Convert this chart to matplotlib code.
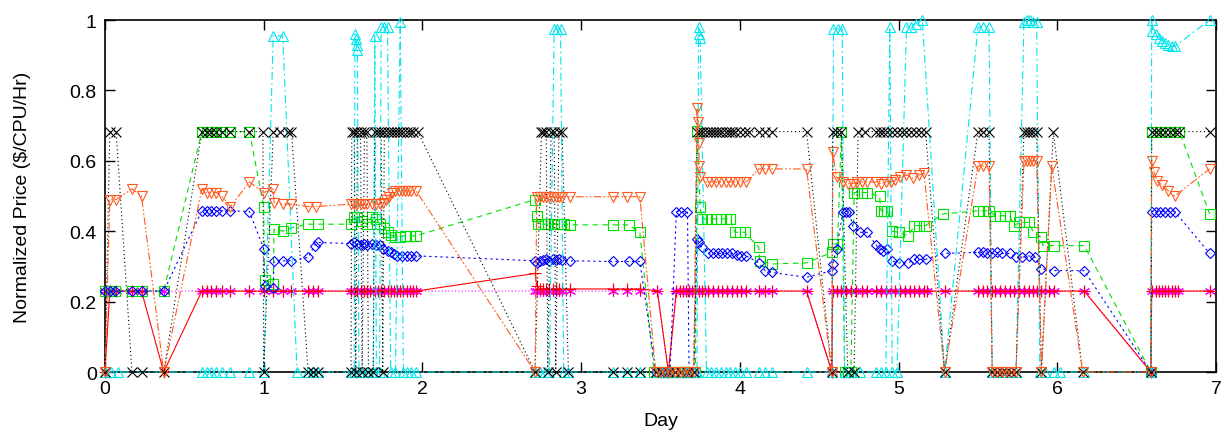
import matplotlib
matplotlib.use("Agg")
import matplotlib.pyplot as plt

plt.rcParams['font.family'] = ['Liberation Sans', 'DejaVu Sans']

# (day, normalized price) points, one list per series
red_pts = [
    (0.0, 0.0), (0.03, 0.23), (0.07, 0.23), (0.17, 0.23), (0.23, 0.23), (0.37, 0.0),
    (0.61, 0.23), (0.64, 0.23), (0.67, 0.23), (0.70, 0.23), (0.735, 0.23), (0.79, 0.23), (0.91, 0.23),
    (1.0, 0.23), (1.06, 0.23), (1.12, 0.23), (1.175, 0.23), (1.28, 0.23), (1.31, 0.23), (1.34, 0.23),
    (1.55, 0.23), (1.57, 0.23), (1.59, 0.23), (1.61, 0.23), (1.63, 0.23), (1.65, 0.23), (1.67, 0.23),
    (1.70, 0.23), (1.72, 0.23), (1.74, 0.23), (1.76, 0.23), (1.78, 0.23), (1.80, 0.23), (1.82, 0.23),
    (1.84, 0.23), (1.86, 0.23), (1.88, 0.23), (1.90, 0.23), (1.92, 0.23), (1.94, 0.23), (1.96, 0.23),
    (2.71, 0.28), (2.72, 0.245), (2.74, 0.236), (2.76, 0.236), (2.78, 0.236), (2.80, 0.236),
    (2.82, 0.236), (2.84, 0.236), (2.86, 0.236), (2.88, 0.236), (2.93, 0.236), (3.20, 0.236),
    (3.29, 0.236), (3.37, 0.236), (3.48, 0.231), (3.55, 0.0),
    (3.60, 0.23), (3.62, 0.23), (3.64, 0.23), (3.66, 0.23), (3.68, 0.23), (3.70, 0.23), (3.72, 0.23),
    (3.74, 0.23), (3.76, 0.23), (3.78, 0.23), (3.80, 0.23), (3.83, 0.23), (3.86, 0.23), (3.89, 0.23),
    (3.92, 0.23), (3.95, 0.23), (3.98, 0.23), (4.01, 0.23), (4.04, 0.23), (4.12, 0.23), (4.16, 0.23),
    (4.20, 0.23), (4.42, 0.23), (4.58, 0.0),
    (4.585, 0.23), (4.61, 0.23), (4.64, 0.23), (4.67, 0.23), (4.70, 0.23), (4.73, 0.23), (4.77, 0.23),
    (4.80, 0.23), (4.86, 0.23), (4.89, 0.23), (4.92, 0.23), (4.95, 0.23), (4.98, 0.23), (5.01, 0.23),
    (5.04, 0.23), (5.07, 0.23), (5.10, 0.23), (5.13, 0.23), (5.16, 0.23), (5.18, 0.23), (5.29, 0.23),
    (5.50, 0.23), (5.53, 0.23), (5.56, 0.23), (5.59, 0.23), (5.61, 0.23), (5.64, 0.23), (5.67, 0.23),
    (5.70, 0.23), (5.73, 0.23), (5.76, 0.23), (5.79, 0.23), (5.82, 0.23), (5.85, 0.23), (5.87, 0.23),
    (5.90, 0.23), (5.95, 0.23), (5.98, 0.23), (6.17, 0.23), (6.59, 0.0),
    (6.595, 0.23), (6.62, 0.23), (6.64, 0.23), (6.66, 0.23), (6.68, 0.23), (6.70, 0.23), (6.72, 0.23),
    (6.74, 0.23), (6.76, 0.23), (6.96, 0.23),
]

magenta_pts = [
    (0.0, 0.23), (0.03, 0.23), (0.07, 0.23), (0.17, 0.23), (0.23, 0.23), (0.37, 0.23),
    (0.61, 0.23), (0.64, 0.23), (0.67, 0.23), (0.70, 0.23), (0.735, 0.23), (0.79, 0.23), (0.91, 0.23),
    (1.0, 0.23), (1.06, 0.23), (1.12, 0.23), (1.175, 0.23), (1.28, 0.23), (1.31, 0.23), (1.34, 0.23),
    (1.55, 0.23), (1.57, 0.23), (1.59, 0.23), (1.61, 0.23), (1.63, 0.23), (1.65, 0.23), (1.67, 0.23),
    (1.70, 0.23), (1.72, 0.23), (1.74, 0.23), (1.76, 0.23), (1.78, 0.23), (1.80, 0.23), (1.82, 0.23),
    (1.84, 0.23), (1.86, 0.23), (1.88, 0.23), (1.90, 0.23), (1.92, 0.23), (1.94, 0.23), (1.96, 0.23),
    (2.71, 0.23), (2.72, 0.23), (2.74, 0.23), (2.76, 0.23), (2.78, 0.23), (2.80, 0.23),
    (2.82, 0.23), (2.84, 0.23), (2.86, 0.23), (2.88, 0.23), (2.93, 0.23), (3.20, 0.23),
    (3.29, 0.23), (3.37, 0.23), (3.48, 0.23), (3.55, 0.0),
    (3.60, 0.23), (3.62, 0.23), (3.64, 0.23), (3.66, 0.23), (3.68, 0.23), (3.70, 0.23), (3.72, 0.23),
    (3.74, 0.23), (3.76, 0.23), (3.78, 0.23), (3.80, 0.23), (3.83, 0.23), (3.86, 0.23), (3.89, 0.23),
    (3.92, 0.23), (3.95, 0.23), (3.98, 0.23), (4.01, 0.23), (4.04, 0.23), (4.12, 0.23), (4.16, 0.23),
    (4.20, 0.23), (4.42, 0.23), (4.58, 0.0),
    (4.585, 0.23), (4.61, 0.23), (4.64, 0.23), (4.67, 0.23), (4.70, 0.23), (4.73, 0.23), (4.77, 0.23),
    (4.80, 0.23), (4.86, 0.23), (4.89, 0.23), (4.92, 0.23), (4.95, 0.23), (4.98, 0.23), (5.01, 0.23),
    (5.04, 0.23), (5.07, 0.23), (5.10, 0.23), (5.13, 0.23), (5.16, 0.23), (5.18, 0.23), (5.29, 0.23),
    (5.50, 0.23), (5.53, 0.23), (5.56, 0.23), (5.59, 0.23), (5.61, 0.23), (5.64, 0.23), (5.67, 0.23),
    (5.70, 0.23), (5.73, 0.23), (5.76, 0.23), (5.79, 0.23), (5.82, 0.23), (5.85, 0.23), (5.87, 0.23),
    (5.90, 0.23), (5.95, 0.23), (5.98, 0.23), (6.17, 0.23), (6.59, 0.0),
    (6.595, 0.23), (6.62, 0.23), (6.64, 0.23), (6.66, 0.23), (6.68, 0.23), (6.70, 0.23), (6.72, 0.23),
    (6.74, 0.23), (6.76, 0.23), (6.96, 0.23),
]

green_pts = [
    (0.0, 0.23), (0.03, 0.23), (0.06, 0.23), (0.17, 0.23), (0.23, 0.23), (0.37, 0.23),
    (0.61, 0.683), (0.64, 0.683), (0.67, 0.683), (0.70, 0.683), (0.735, 0.683), (0.79, 0.683), (0.91, 0.683),
    (1.0, 0.47), (1.005, 0.262), (1.06, 0.25), (1.065, 0.406), (1.12, 0.40), (1.175, 0.41),
    (1.28, 0.42), (1.34, 0.42),
    (1.55, 0.42), (1.57, 0.44), (1.59, 0.44), (1.62, 0.43), (1.65, 0.42), (1.68, 0.44), (1.71, 0.435),
    (1.73, 0.42), (1.76, 0.41), (1.78, 0.397), (1.80, 0.39), (1.83, 0.385), (1.86, 0.385),
    (1.89, 0.387), (1.92, 0.387), (1.96, 0.387),
    (2.71, 0.49), (2.72, 0.444), (2.73, 0.42), (2.75, 0.42), (2.77, 0.42), (2.79, 0.42), (2.81, 0.42),
    (2.83, 0.42), (2.85, 0.42), (2.87, 0.42), (2.89, 0.42), (2.93, 0.418), (3.20, 0.418), (3.30, 0.418),
    (3.37, 0.397),
    (3.46, 0.0), (3.49, 0.0), (3.52, 0.0), (3.55, 0.0), (3.58, 0.0), (3.61, 0.0), (3.64, 0.0),
    (3.67, 0.0), (3.70, 0.0), (3.72, 0.0),
    (3.73, 0.684), (3.75, 0.468), (3.76, 0.435), (3.79, 0.435), (3.82, 0.435), (3.85, 0.435),
    (3.88, 0.435), (3.91, 0.435), (3.94, 0.435), (3.97, 0.397), (4.00, 0.397), (4.03, 0.397),
    (4.12, 0.354), (4.125, 0.316), (4.20, 0.307), (4.42, 0.31),
    (4.58, 0.34), (4.59, 0.364), (4.615, 0.364), (4.64, 0.683), (4.66, 0.0), (4.68, 0.0), (4.70, 0.0),
    (4.72, 0.51), (4.74, 0.51), (4.77, 0.51), (4.80, 0.51),
    (4.88, 0.50), (4.89, 0.458), (4.91, 0.458), (4.93, 0.458), (4.96, 0.40), (5.0, 0.397),
    (5.06, 0.387), (5.10, 0.416), (5.13, 0.416), (5.17, 0.416), (5.28, 0.449),
    (5.50, 0.458), (5.53, 0.458), (5.57, 0.458), (5.61, 0.444), (5.64, 0.444), (5.67, 0.444),
    (5.70, 0.444), (5.73, 0.416), (5.76, 0.425), (5.79, 0.425), (5.82, 0.425), (5.85, 0.397),
    (5.90, 0.383), (5.91, 0.359), (5.98, 0.359), (6.17, 0.359),
    (6.59, 0.0), (6.595, 0.683), (6.62, 0.683), (6.65, 0.683), (6.68, 0.683), (6.71, 0.683),
    (6.74, 0.683), (6.77, 0.683), (6.96, 0.449),
]

blue_pts = [
    (0.0, 0.23), (0.03, 0.23), (0.06, 0.23), (0.17, 0.23), (0.23, 0.23), (0.37, 0.23),
    (0.61, 0.458), (0.64, 0.458), (0.67, 0.458), (0.70, 0.458), (0.735, 0.458), (0.79, 0.458), (0.91, 0.456),
    (1.0, 0.35), (1.005, 0.245), (1.06, 0.24), (1.065, 0.316), (1.12, 0.316), (1.175, 0.316),
    (1.28, 0.326), (1.32, 0.359), (1.34, 0.368),
    (1.55, 0.365), (1.57, 0.37), (1.59, 0.365), (1.61, 0.36), (1.63, 0.365), (1.65, 0.36), (1.68, 0.365),
    (1.71, 0.36), (1.73, 0.36), (1.75, 0.35), (1.78, 0.345), (1.80, 0.34), (1.82, 0.335), (1.84, 0.33),
    (1.87, 0.33), (1.90, 0.33), (1.93, 0.33), (1.96, 0.33),
    (2.71, 0.316), (2.72, 0.31), (2.74, 0.316), (2.76, 0.318), (2.78, 0.32), (2.80, 0.316), (2.82, 0.32),
    (2.84, 0.318), (2.86, 0.32), (2.88, 0.318), (2.93, 0.316), (3.20, 0.314), (3.30, 0.314), (3.37, 0.314),
    (3.47, 0.0), (3.52, 0.0), (3.56, 0.0), (3.60, 0.456), (3.63, 0.456), (3.67, 0.456), (3.68, 0.0),
    (3.71, 0.0),
    (3.73, 0.378), (3.74, 0.37), (3.76, 0.354), (3.80, 0.337), (3.83, 0.337), (3.86, 0.337), (3.89, 0.337),
    (3.92, 0.337), (3.95, 0.337), (3.98, 0.333), (4.01, 0.33), (4.04, 0.33),
    (4.12, 0.31), (4.16, 0.288), (4.20, 0.283), (4.42, 0.269), (4.58, 0.288), (4.585, 0.307),
    (4.61, 0.35), (4.65, 0.456), (4.67, 0.456), (4.69, 0.456), (4.71, 0.416),
    (4.76, 0.397), (4.80, 0.397), (4.86, 0.36), (4.88, 0.35), (4.90, 0.345), (4.93, 0.35), (4.96, 0.316),
    (5.0, 0.31), (5.06, 0.31), (5.10, 0.32), (5.13, 0.32), (5.17, 0.32), (5.29, 0.337),
    (5.50, 0.34), (5.53, 0.34), (5.56, 0.337), (5.59, 0.337), (5.62, 0.34), (5.65, 0.337), (5.70, 0.337),
    (5.74, 0.326), (5.78, 0.326), (5.82, 0.33), (5.86, 0.326), (5.90, 0.293), (5.98, 0.288), (6.17, 0.288),
    (6.59, 0.0), (6.595, 0.456), (6.62, 0.456), (6.65, 0.456), (6.68, 0.456), (6.71, 0.456),
    (6.74, 0.456), (6.96, 0.337),
]

cyan_pts = [
    (0.0, 0.0), (0.04, 0.0), (0.08, 0.0), (0.61, 0.0), (0.64, 0.0), (0.67, 0.0), (0.70, 0.0),
    (0.735, 0.0), (0.79, 0.0), (0.91, 0.0), (1.0, 0.0),
    (1.06, 0.955), (1.12, 0.955), (1.21, 0.0), (1.28, 0.0), (1.31, 0.0), (1.34, 0.0),
    (1.55, 0.0), (1.57, 0.0), (1.575, 0.96), (1.58, 0.945), (1.585, 0.93), (1.59, 0.915), (1.60, 0.0),
    (1.62, 0.0), (1.65, 0.0), (1.69, 0.0), (1.70, 0.955), (1.71, 0.0), (1.73, 0.0), (1.74, 0.98),
    (1.76, 0.98), (1.78, 0.98), (1.80, 0.0), (1.83, 0.0), (1.86, 0.995), (1.88, 0.0), (1.90, 0.0),
    (1.93, 0.0), (1.96, 0.0),
    (2.71, 0.0), (2.74, 0.0), (2.77, 0.0), (2.80, 0.0), (2.83, 0.975), (2.85, 0.975), (2.87, 0.975),
    (2.89, 0.0), (2.92, 0.0), (3.20, 0.0), (3.29, 0.0), (3.37, 0.0),
    (3.47, 0.0), (3.51, 0.0), (3.55, 0.0), (3.59, 0.0), (3.63, 0.0), (3.67, 0.0), (3.71, 0.0), (3.73, 0.0),
    (3.74, 0.98), (3.745, 0.96), (3.75, 0.95), (3.79, 0.0), (3.82, 0.0), (3.85, 0.0), (3.88, 0.0),
    (3.91, 0.0), (3.94, 0.0), (3.97, 0.0), (4.00, 0.0), (4.04, 0.0), (4.12, 0.0), (4.16, 0.0),
    (4.20, 0.0), (4.42, 0.0), (4.58, 0.0), (4.59, 0.975), (4.62, 0.975), (4.645, 0.975), (4.66, 0.0),
    (4.70, 0.0), (4.76, 0.0), (4.86, 0.0), (4.89, 0.0), (4.92, 0.0), (4.945, 0.98), (4.96, 0.0),
    (4.99, 0.0), (5.05, 0.98), (5.08, 0.98), (5.11, 0.99), (5.15, 1.0), (5.29, 0.0),
    (5.50, 0.98), (5.53, 0.98), (5.57, 0.98), (5.59, 0.0), (5.62, 0.0), (5.65, 0.0), (5.68, 0.0),
    (5.71, 0.0), (5.74, 0.0), (5.79, 0.995), (5.81, 1.0), (5.83, 1.0), (5.85, 0.995), (5.87, 0.995),
    (5.89, 0.0), (5.92, 0.0), (5.98, 0.0), (6.02, 0.0), (6.17, 0.0), (6.59, 0.0),
    (6.595, 1.0), (6.60, 0.97), (6.62, 0.96), (6.64, 0.95), (6.66, 0.94), (6.68, 0.935), (6.70, 0.93),
    (6.72, 0.925), (6.74, 0.925), (6.96, 1.0),
]

black_pts = [
    (0.0, 0.0), (0.03, 0.683), (0.07, 0.683), (0.17, 0.0), (0.23, 0.0), (0.37, 0.0),
    (0.61, 0.683), (0.64, 0.683), (0.67, 0.683), (0.70, 0.683), (0.735, 0.683), (0.79, 0.683), (0.91, 0.683),
    (0.995, 0.683), (1.0, 0.0), (1.06, 0.683), (1.10, 0.683), (1.15, 0.683), (1.175, 0.683),
    (1.28, 0.0), (1.31, 0.0), (1.34, 0.0),
    (1.55, 0.0), (1.555, 0.683), (1.57, 0.683), (1.58, 0.0), (1.59, 0.683), (1.61, 0.683), (1.62, 0.0),
    (1.635, 0.683), (1.65, 0.683), (1.66, 0.0), (1.69, 0.0), (1.70, 0.683), (1.72, 0.683), (1.74, 0.683),
    (1.75, 0.0), (1.76, 0.683), (1.78, 0.683), (1.80, 0.683), (1.82, 0.683), (1.84, 0.683), (1.86, 0.683),
    (1.88, 0.683), (1.90, 0.683), (1.92, 0.683), (1.94, 0.683), (1.97, 0.683),
    (2.71, 0.0), (2.75, 0.683), (2.76, 0.683), (2.78, 0.683), (2.79, 0.0), (2.81, 0.683), (2.83, 0.683),
    (2.84, 0.0), (2.86, 0.683), (2.88, 0.683), (2.92, 0.0), (3.20, 0.0), (3.29, 0.0), (3.37, 0.0),
    (3.47, 0.0), (3.51, 0.0), (3.55, 0.0), (3.59, 0.0), (3.63, 0.0), (3.67, 0.0), (3.71, 0.0),
    (3.73, 0.683), (3.75, 0.683), (3.77, 0.683), (3.79, 0.683), (3.81, 0.683), (3.83, 0.683), (3.85, 0.683),
    (3.87, 0.683), (3.89, 0.683), (3.91, 0.683), (3.93, 0.683), (3.95, 0.683), (3.97, 0.683), (4.00, 0.683),
    (4.03, 0.683), (4.06, 0.683), (4.12, 0.683), (4.16, 0.683), (4.20, 0.683), (4.42, 0.683),
    (4.58, 0.0), (4.585, 0.683), (4.61, 0.683), (4.64, 0.683), (4.68, 0.0), (4.72, 0.0),
    (4.745, 0.683), (4.79, 0.683), (4.86, 0.683), (4.88, 0.683), (4.90, 0.683), (4.93, 0.683),
    (4.96, 0.683), (4.99, 0.683), (5.02, 0.683), (5.05, 0.683), (5.08, 0.683), (5.11, 0.683),
    (5.14, 0.683), (5.17, 0.683), (5.29, 0.0),
    (5.50, 0.683), (5.53, 0.683), (5.57, 0.683), (5.59, 0.0), (5.62, 0.0), (5.65, 0.0), (5.68, 0.0),
    (5.71, 0.0), (5.74, 0.0), (5.79, 0.683), (5.81, 0.683), (5.83, 0.683), (5.85, 0.683), (5.87, 0.683),
    (5.90, 0.0), (5.975, 0.683), (6.16, 0.0), (6.59, 0.0),
    (6.595, 0.683), (6.62, 0.683), (6.65, 0.683), (6.68, 0.683), (6.71, 0.683), (6.74, 0.683),
    (6.77, 0.683), (6.96, 0.683),
]

orange_pts = [
    (0.0, 0.0), (0.03, 0.49), (0.07, 0.49), (0.17, 0.52), (0.23, 0.50), (0.37, 0.0),
    (0.61, 0.52), (0.64, 0.51), (0.67, 0.51), (0.70, 0.51), (0.735, 0.50), (0.79, 0.47), (0.91, 0.54),
    (1.0, 0.51), (1.06, 0.52), (1.065, 0.48), (1.12, 0.477), (1.175, 0.477), (1.28, 0.47), (1.33, 0.47),
    (1.55, 0.477), (1.57, 0.477), (1.59, 0.477), (1.61, 0.477), (1.63, 0.477), (1.65, 0.477), (1.68, 0.477),
    (1.71, 0.477), (1.73, 0.477), (1.75, 0.48), (1.77, 0.49), (1.79, 0.496), (1.81, 0.51), (1.83, 0.515),
    (1.85, 0.515), (1.87, 0.515), (1.89, 0.515), (1.91, 0.515), (1.93, 0.515), (1.96, 0.515),
    (2.71, 0.0), (2.72, 0.498), (2.74, 0.498), (2.76, 0.498), (2.78, 0.498), (2.80, 0.498), (2.82, 0.498),
    (2.84, 0.498), (2.86, 0.498), (2.88, 0.498), (2.93, 0.498), (3.20, 0.498), (3.29, 0.498), (3.37, 0.498),
    (3.47, 0.0), (3.50, 0.0), (3.53, 0.0), (3.56, 0.0), (3.59, 0.0), (3.62, 0.0), (3.65, 0.0),
    (3.68, 0.0), (3.71, 0.0),
    (3.73, 0.75), (3.735, 0.71), (3.74, 0.65), (3.745, 0.585), (3.75, 0.555), (3.79, 0.54), (3.82, 0.54),
    (3.85, 0.54), (3.88, 0.54), (3.91, 0.54), (3.94, 0.54), (3.97, 0.54), (4.00, 0.54), (4.04, 0.54),
    (4.12, 0.577), (4.16, 0.577), (4.20, 0.577), (4.42, 0.577),
    (4.58, 0.0), (4.585, 0.624), (4.61, 0.553), (4.65, 0.54), (4.68, 0.535), (4.71, 0.535), (4.74, 0.54),
    (4.77, 0.54), (4.80, 0.54), (4.86, 0.54), (4.89, 0.535), (4.92, 0.54), (4.95, 0.54), (4.98, 0.545),
    (5.01, 0.553), (5.05, 0.56), (5.09, 0.55), (5.13, 0.56), (5.16, 0.565),
    (5.29, 0.0), (5.50, 0.585), (5.53, 0.585), (5.57, 0.585), (5.59, 0.0), (5.62, 0.0), (5.65, 0.0),
    (5.68, 0.0), (5.71, 0.0), (5.74, 0.0), (5.79, 0.60), (5.81, 0.60), (5.83, 0.60), (5.85, 0.60),
    (5.87, 0.60), (5.90, 0.0), (5.965, 0.586), (6.16, 0.0), (6.59, 0.0),
    (6.595, 0.60), (6.61, 0.567), (6.63, 0.544), (6.66, 0.53), (6.70, 0.515), (6.74, 0.50), (6.96, 0.577),
]

asterisk = (6, 2, 0)

series = [
    # points, colour, dashes (None = solid), marker, marker size
    (magenta_pts, "#ff00ff", [1, 2], asterisk, 8),
    (red_pts, "#ff0000", None, "+", 8),
    (green_pts, "#00e000", [5, 4], "s", 6.5),
    (blue_pts, "#0000ff", [2, 3], "D", 5),
    (cyan_pts, "#00e5ee", [7, 3, 1.5, 3], "^", 7),
    (black_pts, "#000000", [1, 2.5], "x", 7),
    (orange_pts, "#ff5a1e", [7, 2, 1.5, 2, 1.5, 2], "v", 7),
]

fig = plt.figure(figsize=(12.31, 4.39), dpi=100)
ax = fig.add_axes([0.0853, 0.1503, 0.9025, 0.8018])

for z, (pts, col, dash, mk, ms) in enumerate(series):
    xs = [p[0] for p in pts]
    ys = [p[1] for p in pts]
    line, = ax.plot(xs, ys, color=col, lw=0.8, marker=mk, ms=ms,
                    mfc="none", mec=col, mew=0.8, clip_on=False, zorder=2 + z)
    if dash is not None:
        line.set_dashes(dash)

ax.set_xlim(0, 7)
ax.set_ylim(0, 1)
ax.set_xticks(range(8))
ax.set_yticks([0, 0.2, 0.4, 0.6, 0.8, 1])
ax.set_yticklabels(["0", "0.2", "0.4", "0.6", "0.8", "1"])
ax.tick_params(direction="in", top=True, right=True, length=7, width=1,
               labelsize=14, pad=6)
for s in ax.spines.values():
    s.set_linewidth(1.2)

ax.set_xlabel("Day", fontsize=14)
ax.set_ylabel(r"Normalized Price (\$/CPU/Hr)", fontsize=14)
ax.xaxis.set_label_coords(0.5, -0.115)
ax.yaxis.set_label_coords(-0.067, 0.5)

fig.savefig("out.png", dpi=100)
